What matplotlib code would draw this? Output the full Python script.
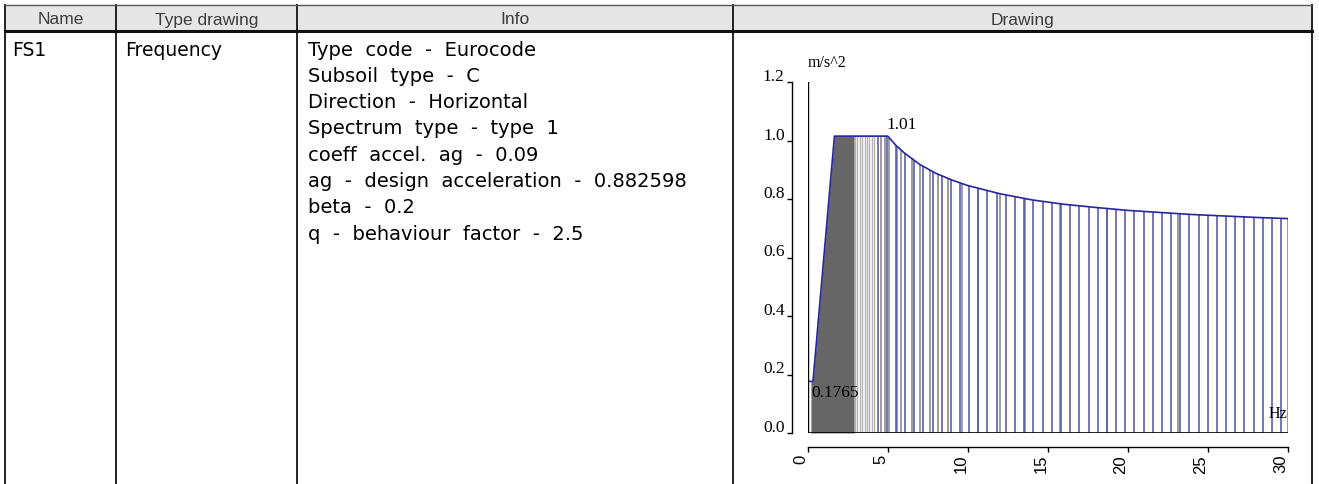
import numpy as np
import matplotlib
matplotlib.use("Agg")
import matplotlib.pyplot as plt
import matplotlib.transforms as mtransforms

# table contents
headers = ["Name", "Type drawing", "Info", "Drawing"]
row_name = "FS1"
row_type = "Frequency"
info_lines = [
    "Type  code  -  Eurocode",
    "Subsoil  type  -  C",
    "Direction  -  Horizontal",
    "Spectrum  type  -  type  1",
    "coeff  accel.  ag  -  0.09",
    "ag  -  design  acceleration  -  0.882598",
    "beta  -  0.2",
    "q  -  behaviour  factor  -  2.5",
]

# spectrum curve (Hz, m/s^2)
curve_f = [0.0, 0.33, 1.67, 5.0, 5.5, 6.0, 7.0, 8.0, 9.0, 10.0, 12.0, 14.0,
           16.0, 18.0, 20.0, 22.0, 24.0, 26.0, 28.0, 30.0]
curve_a = [0.1765, 0.1765, 1.015, 1.015, 0.984, 0.959, 0.918, 0.888, 0.865,
           0.846, 0.818, 0.797, 0.782, 0.771, 0.761, 0.754, 0.747, 0.742,
           0.737, 0.733]

# sampled frequencies drawn as vertical lines
dense_f = [0.2, 0.33, 1.67, 2.9]
light_f = [2.95, 3.1, 3.25, 3.4, 3.55, 3.7, 3.85, 4.0, 4.15]
grey_f = [4.55, 4.8, 5.1, 5.6, 5.84, 6.5, 7.03, 7.65, 8.15, 8.78, 9.64,
          10.66, 12.03, 13.6, 15.75, 18.7, 23.1, 30.0]
blue_f = [4.36, 4.93, 5.50, 6.08, 6.65, 7.22, 7.80, 8.37, 8.94, 9.52, 10.09,
          10.66, 11.23, 11.81, 12.38, 12.95, 13.53, 14.10, 14.67, 15.25,
          15.82, 16.39, 16.96, 17.54, 18.11, 18.68, 19.26, 19.83, 20.40,
          20.98, 21.55, 22.12, 22.69, 23.27, 23.84, 24.41, 24.99, 25.56,
          26.13, 26.71, 27.28, 27.85, 28.42, 29.00, 29.57]

x_ticks = [0, 5, 10, 15, 20, 25, 30]
y_ticks = [0.0, 0.2, 0.4, 0.6, 0.8, 1.0, 1.2]

W, H = 1319, 485
fig = plt.figure(figsize=(W / 100, H / 100), dpi=100)

# table drawn in pixel coordinates
tab = fig.add_axes([0, 0, 1, 1])
tab.set_xlim(0, W)
tab.set_ylim(H, 0)
tab.axis("off")

col_x = [5, 116, 297, 733, 1312]
top, head_bot = 6, 32
tab.fill_between([col_x[0], col_x[-1]], top, head_bot, color="#e6e6e6", lw=0)
for x in col_x:
    tab.plot([x, x], [top, H], color="#222222", lw=1.4)
tab.plot([col_x[0], col_x[-1]], [top, top], color="#555555", lw=1.0)
tab.plot([col_x[0], col_x[-1]], [head_bot, head_bot], color="#111111", lw=2.2)

sans = ["Liberation Sans", "DejaVu Sans"]
wide = ["DejaVu Sans"]
for i, h in enumerate(headers):
    tab.text((col_x[i] + col_x[i + 1]) / 2, (top + head_bot) / 2 + 1, h,
             ha="center", va="center", fontsize=12.5, color="#3c3c3c", family=sans)

y0, dy = 50, 26.3
tab.text(col_x[0] + 7, y0, row_name, ha="left", va="center", fontsize=13.5, family=wide)
tab.text(col_x[1] + 9, y0, row_type, ha="left", va="center", fontsize=13.5, family=wide)
for k, line in enumerate(info_lines):
    tab.text(col_x[2] + 11, y0 + k * dy, line, ha="left", va="center",
             fontsize=14, family=wide)

# chart
x0, x1 = 807.7, 1288.0
yb, yt = 434.0, 83.0
ax = fig.add_axes([x0 / W, (H - yb) / H, (x1 - x0) / W, (yb - yt) / H])
ax.set_xlim(0, 30)
ax.set_ylim(0, 1.2)
ax.patch.set_alpha(0)

serif = ["Liberation Serif", "DejaVu Serif"]

ax.fill_between(dense_f, 0, np.interp(dense_f, curve_f, curve_a),
                color="#666666", lw=0, zorder=1)
ax.vlines(light_f, 0, np.interp(light_f, curve_f, curve_a),
          color="#b5b5b5", lw=1.0, zorder=2)
ax.vlines(grey_f, 0, np.interp(grey_f, curve_f, curve_a),
          color="#8c8c8c", lw=1.2, zorder=2)
ax.vlines(blue_f, 0, np.interp(blue_f, curve_f, curve_a),
          color="#5050aa", lw=1.1, zorder=3)
ax.plot(curve_f, curve_a, color="#2626a0", lw=1.2, zorder=4)

ax.plot([0, 0], [0, 1.2], color="black", lw=1.0, zorder=5)
ax.plot([0, 30], [0, 0], color="black", lw=1.2, zorder=5)

ax.text(4.9, 1.03, "1.01", ha="left", va="bottom", fontsize=12.5, family=serif)
ax.text(0.25, 0.14, "0.1765", ha="left", va="center", fontsize=12.5, family=serif)
ax.text(1.2, 1.27, "m/s^2", ha="center", va="center", fontsize=11.5,
        family=serif, clip_on=False)
ax.text(29.95, 0.07, "Hz", ha="right", va="center", fontsize=11.5, family=serif)

for s in ["top", "right"]:
    ax.spines[s].set_visible(False)
ax.spines["left"].set_position(("outward", 11.5))
ax.spines["left"].set_bounds(0, 1.2)
ax.spines["bottom"].set_position(("outward", 10))
ax.spines["bottom"].set_bounds(0, 30)
ax.spines["left"].set_linewidth(1.0)
ax.spines["bottom"].set_linewidth(1.0)

ax.set_yticks(y_ticks)
ax.set_yticklabels([f"{v:.1f}" for v in y_ticks], family=serif, fontsize=12.5)
ax.set_xticks(x_ticks)
ax.set_xticklabels([str(v) for v in x_ticks], family=sans, fontsize=12,
                   rotation=90)
ax.tick_params(axis="y", direction="out", length=3.6, pad=1.5, width=1.0)
ax.tick_params(axis="x", direction="out", length=3.6, pad=1.5, width=1.0)

for lab in ax.get_yticklabels():
    lab.set_va("bottom")
    lab.set_transform(lab.get_transform() +
                      mtransforms.ScaledTranslation(0, -2 / 100, fig.dpi_scale_trans))
for lab in ax.get_xticklabels():
    lab.set_transform(lab.get_transform() +
                      mtransforms.ScaledTranslation(-7 / 100, 0, fig.dpi_scale_trans))

fig.savefig("out.png", dpi=100)
